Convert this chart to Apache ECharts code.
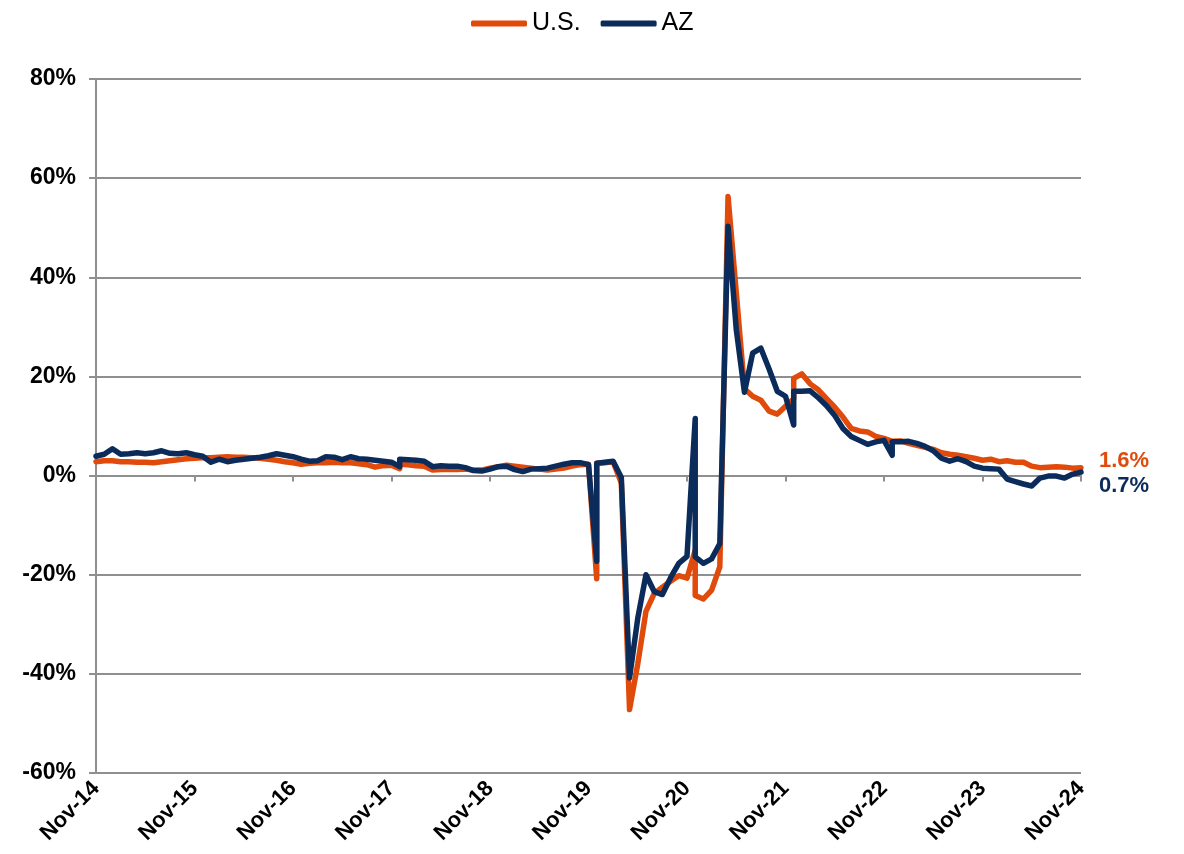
<!DOCTYPE html>
<html>
<head>
<meta charset="utf-8">
<script src="https://cdn.jsdelivr.net/npm/echarts@6/dist/echarts.min.js"></script>
<style>
  html, body { margin: 0; padding: 0; background: #fff; }
  #res { width: 1184px; height: 854px; }
</style>
</head>
<body>
<div id="res"></div>
<script>
// month index from Nov-14 (0) to Nov-24 (120); repeated index = vertical jump
const months = [
  0, 1, 2, 3, 4, 5, 6, 7, 8, 9, 10, 11, 12, 13, 14, 15, 16, 17, 18, 19, 20,
  21, 22, 23, 24, 25, 26, 27, 28, 29, 30, 31, 32, 33, 34, 35, 36, 37, 37, 38, 39, 40,
  41, 42, 43, 44, 45, 46, 47, 48, 49, 50, 51, 52, 53, 54, 55, 56, 57, 58, 59, 60,
  61, 61, 62, 63, 64, 65, 66, 67, 68, 69, 70, 71, 72, 73, 73, 74, 75, 76, 77, 78, 79, 80,
  81, 82, 83, 84, 85, 85, 86, 87, 88, 89, 90, 91, 92, 93, 94, 95, 96, 97, 97, 98, 99, 100,
  101, 102, 103, 104, 105, 106, 107, 108, 109, 110, 111, 112, 113, 114, 115, 116, 117, 118, 119, 120
];

const us = [
  2.8, 3.0, 3.0, 2.8, 2.8, 2.7, 2.7, 2.6, 2.8, 3.0, 3.2, 3.4, 3.5, 3.6, 3.6, 3.7, 3.8, 3.7, 3.7, 3.6, 3.5,
  3.3, 3.1, 2.8, 2.6, 2.3, 2.5, 2.6, 2.6, 2.7, 2.6, 2.6, 2.4, 2.2, 1.7, 2.0, 2.1, 1.4, 2.3, 2.2, 2.0, 1.9,
  1.1, 1.2, 1.2, 1.2, 1.3, 1.1, 1.1, 1.5, 1.8, 2.1, 1.9, 1.7, 1.5, 1.3, 1.1, 1.3, 1.5, 1.9, 2.2, 2.3,
  -20.8, 2.5, 2.6, 2.8, -1.5, -47.2, -38.0, -27.4, -23.8, -22.5, -21.3, -20.2, -20.7, -15.0, -24.2, -24.9, -23.1, -18.4, 56.3, 37.0, 17.5, 16.0,
  15.2, 13.0, 12.4, 14.0, 15.5, 19.6, 20.5, 18.5, 17.3, 15.5, 13.8, 11.8, 9.5, 9.0, 8.8, 7.9, 7.5, 6.9, 6.9, 7.0, 6.5, 6.1,
  5.7, 5.3, 4.6, 4.3, 4.1, 3.8, 3.5, 3.1, 3.3, 2.8, 3.0, 2.7, 2.7, 1.9, 1.6, 1.7, 1.8, 1.7, 1.5, 1.6
];

const az = [
  3.9, 4.3, 5.4, 4.3, 4.4, 4.6, 4.4, 4.6, 5.0, 4.5, 4.4, 4.6, 4.2, 3.9, 2.7, 3.3, 2.8, 3.1, 3.3, 3.5, 3.7,
  4.0, 4.4, 4.1, 3.8, 3.3, 2.9, 3.0, 3.8, 3.7, 3.2, 3.8, 3.4, 3.3, 3.1, 2.9, 2.7, 1.8, 3.3, 3.2, 3.1, 2.9,
  1.8, 2.0, 1.9, 1.9, 1.6, 1.0, 0.9, 1.3, 1.8, 1.9, 1.2, 0.8, 1.3, 1.4, 1.5, 1.9, 2.3, 2.6, 2.6, 2.2,
  -17.3, 2.5, 2.7, 2.9, -0.4, -40.8, -28.8, -20.0, -23.4, -24.0, -20.6, -17.7, -16.3, 11.5, -16.4, -17.7, -16.8, -13.7, 50.3, 29.5, 16.8, 24.7,
  25.7, 21.5, 17.0, 16.0, 10.2, 17.0, 17.0, 17.1, 15.7, 14.1, 12.1, 9.5, 7.9, 7.1, 6.3, 6.8, 7.1, 4.1, 6.8, 6.8, 6.9, 6.5,
  5.9, 5.0, 3.5, 2.9, 3.4, 2.8, 1.9, 1.5, 1.4, 1.3, -0.7, -1.2, -1.7, -2.1, -0.5, -0.1, -0.1, -0.5, 0.3, 0.7
];

const tickLabels = ['Nov-14', 'Nov-15', 'Nov-16', 'Nov-17', 'Nov-18', 'Nov-19',
  'Nov-20', 'Nov-21', 'Nov-22', 'Nov-23', 'Nov-24'];

const names = ['U.S.', 'AZ'];
const colors = ['#E04A0A', '#0B2C5A'];

function pairs(vals) {
  return months.map((m, i) => [m, vals[i]]);
}

let chartDom = document.getElementById('res');
let myChart = echarts.init(chartDom);
const font = "'Liberation Sans', Arial, sans-serif";
const grey = '#8f8f8f';

let option = {
  animation: false,
  color: colors,
  textStyle: { fontFamily: font },
  legend: {
    top: 6,
    left: 466,
    icon: 'roundRect',
    itemWidth: 56,
    itemHeight: 6,
    itemGap: 20,
    textStyle: { fontSize: 25, color: '#000', fontFamily: font },
    data: names
  },
  grid: { left: 96, right: 103, top: 79, bottom: 81 },
  xAxis: [
    {
      type: 'value',
      min: 0, max: 120, interval: 12,
      position: 'bottom',
      axisLine: { onZero: true, lineStyle: { color: grey, width: 2 } },
      axisTick: { show: true, length: 6, lineStyle: { color: grey, width: 2 } },
      axisLabel: { show: false },
      splitLine: { show: false }
    },
    {
      type: 'value',
      min: 0, max: 120, interval: 12,
      position: 'bottom',
      axisLine: { show: false, onZero: false },
      axisTick: { show: false },
      splitLine: { show: false },
      axisLabel: {
        rotate: 45,
        margin: 12,
        color: '#000',
        fontSize: 22,
        fontWeight: 'bold',
        fontFamily: font,
        formatter: v => tickLabels[Math.round(v / 12)]
      }
    }
  ],
  yAxis: {
    type: 'value',
    min: -60, max: 80, interval: 20,
    axisLine: { show: true, lineStyle: { color: grey, width: 2 } },
    axisTick: { show: true, length: 7, lineStyle: { color: grey, width: 2 } },
    splitLine: { lineStyle: { color: grey, width: 2 } },
    axisLabel: {
      margin: 20,
      color: '#000',
      fontSize: 23,
      fontWeight: 'bold',
      fontFamily: font,
      formatter: '{value}%'
    }
  },
  series: [
    {
      name: names[0],
      type: 'line',
      xAxisIndex: 0,
      symbol: 'none',
      data: pairs(us),
      lineStyle: { width: 5.5, color: colors[0], cap: 'round', join: 'round' },
      endLabel: {
        show: true,
        offset: [10, -7],
        color: colors[0],
        fontSize: 22,
        fontWeight: 'bold',
        fontFamily: font,
        formatter: p => p.value[1].toFixed(1) + '%'
      }
    },
    {
      name: names[1],
      type: 'line',
      xAxisIndex: 0,
      symbol: 'none',
      data: pairs(az),
      lineStyle: { width: 5.5, color: colors[1], cap: 'round', join: 'round' },
      endLabel: {
        show: true,
        offset: [10, 14],
        color: colors[1],
        fontSize: 22,
        fontWeight: 'bold',
        fontFamily: font,
        formatter: p => p.value[1].toFixed(1) + '%'
      }
    }
  ]
};
option && myChart.setOption(option);
</script>
</body>
</html>
